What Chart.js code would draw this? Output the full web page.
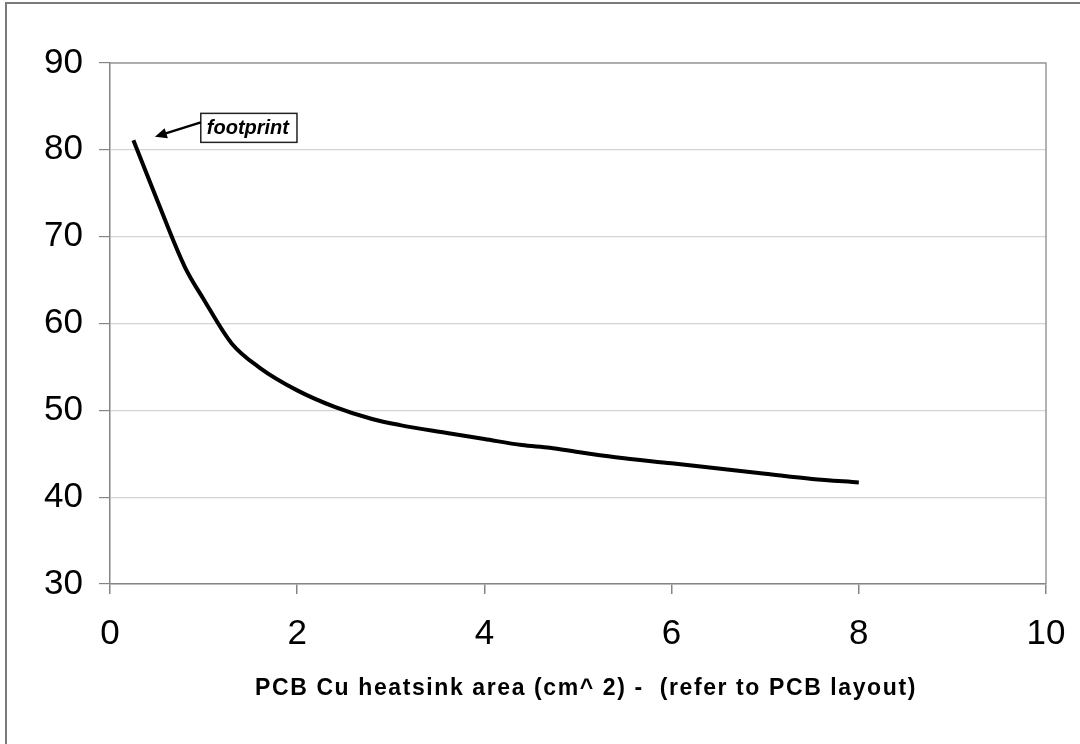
<!DOCTYPE html>
<html>
<head>
<meta charset="utf-8">
<script src="https://cdn.jsdelivr.net/npm/chart.js@4/dist/chart.umd.min.js"></script>
<style>
  html, body { margin:0; padding:0; background:#fff; }
  #wrap { position:relative; width:1080px; height:744px; overflow:hidden; }
  #frame { position:absolute; left:5px; top:2px; width:1100px; height:800px; border-left:2px solid #7a7a7a; border-top:2px solid #7a7a7a; }
  #c { position:absolute; left:0; top:0; }
  #xtitle { position:absolute; left:0; width:1172px; top:674px; text-align:center;
            font:bold 23px "Liberation Sans", Arial, sans-serif; letter-spacing:1.6px; color:#000; }
</style>
</head>
<body>
<div id="wrap">
  <div id="frame"></div>
  <canvas id="c" width="1080" height="744"></canvas>
  <div id="xtitle">PCB Cu heatsink area (cm^ 2) -&nbsp; (refer to PCB layout)</div>
</div>
<script>
// curve
const area  = [0.25, 0.5, 0.8, 1.0, 1.3, 1.6, 2.0, 2.4, 2.8, 3.1, 3.6, 4.0, 4.4, 4.7, 5.0, 5.4, 6.0, 6.5, 7.0, 7.5, 8.0];
const rth   = [81.1, 74.3, 66.5, 62.8, 57.7, 54.9, 52.3, 50.4, 49.0, 48.3, 47.4, 46.7, 46.0, 45.7, 45.2, 44.6, 43.9, 43.3, 42.7, 42.1, 41.7];
const xTicks = [0, 2, 4, 6, 8, 10];
const yTicks = [30, 40, 50, 60, 70, 80, 90];

// callout "footprint" (box corner and arrow tip in data units)
const note = { text: 'footprint', boxX: 0.97, boxY: 84.2, tipX: 0.48, tipY: 81.5 };

const AXIS = '#858585';
const FONT = '"Liberation Sans", Arial, sans-serif';

const frameAndNote = {
  id: 'frameAndNote',
  afterDraw(chart) {
    const { ctx, chartArea: a, scales: { x, y } } = chart;
    ctx.save();
    // plot border top/right
    ctx.strokeStyle = '#9a9a9a';
    ctx.lineWidth = 1.5;
    ctx.beginPath();
    ctx.moveTo(a.left, a.top);
    ctx.lineTo(a.right, a.top);
    ctx.lineTo(a.right, a.bottom);
    ctx.stroke();

    // callout box
    const bx = x.getPixelForValue(note.boxX), by = y.getPixelForValue(note.boxY);
    ctx.font = 'italic bold 20px ' + FONT;
    const w = ctx.measureText(note.text).width + 14, h = 29;
    ctx.fillStyle = '#fff';
    ctx.fillRect(bx, by, w, h);
    ctx.strokeStyle = '#222';
    ctx.lineWidth = 1.5;
    ctx.strokeRect(bx, by, w, h);
    ctx.fillStyle = '#000';
    ctx.textBaseline = 'alphabetic';
    ctx.fillText(note.text, bx + 6, by + 21);

    // arrow
    const tx = x.getPixelForValue(note.tipX), ty = y.getPixelForValue(note.tipY);
    const sx = bx, sy = by + 9;
    const ang = Math.atan2(ty - sy, tx - sx);
    ctx.strokeStyle = '#000';
    ctx.lineWidth = 2.5;
    ctx.beginPath();
    ctx.moveTo(sx, sy);
    ctx.lineTo(tx - 8 * Math.cos(ang), ty - 8 * Math.sin(ang));
    ctx.stroke();
    ctx.beginPath();
    ctx.moveTo(tx, ty);
    ctx.lineTo(tx - 13 * Math.cos(ang - 0.42), ty - 13 * Math.sin(ang - 0.42));
    ctx.lineTo(tx - 13 * Math.cos(ang + 0.42), ty - 13 * Math.sin(ang + 0.42));
    ctx.closePath();
    ctx.fill();
    ctx.restore();
  }
};

new Chart(document.getElementById('c'), {
  type: 'line',
  data: {
    datasets: [{
      data: area.map((v, i) => ({ x: v, y: rth[i] })),
      borderColor: '#000',
      borderWidth: 4,
      pointRadius: 0,
      tension: 0.3,
      cubicInterpolationMode: 'monotone',
      fill: false,
    }],
  },
  options: {
    responsive: false,
    animation: false,
    layout: { padding: { left: 0, top: 63, right: 34, bottom: 0 } },
    plugins: { legend: { display: false }, tooltip: { enabled: false } },
    scales: {
      x: {
        type: 'linear', min: 0, max: 10,
        afterFit: s => { s.height = 160; s.paddingLeft = 0; s.paddingRight = 0; },
        afterBuildTicks: s => { s.ticks = xTicks.map(v => ({ value: v })); },
        grid: { drawOnChartArea: false, tickLength: 10, tickColor: AXIS, lineWidth: 1.5 },
        border: { color: AXIS, width: 1.5 },
        ticks: { color: '#000', font: { family: FONT, size: 35 }, padding: 19, maxRotation: 0 },
      },
      y: {
        type: 'linear', min: 30, max: 90,
        afterFit: s => { s.width = 110; s.paddingTop = 0; s.paddingBottom = 0; },
        afterBuildTicks: s => { s.ticks = yTicks.map(v => ({ value: v })); },
        grid: { color: '#d4d4d4', lineWidth: 1.2, tickLength: 11, tickColor: AXIS },
        border: { color: AXIS, width: 1.5 },
        ticks: { color: '#000', font: { family: FONT, size: 35 }, padding: 16 },
      },
    },
  },
  plugins: [frameAndNote],
});
</script>
</body>
</html>
